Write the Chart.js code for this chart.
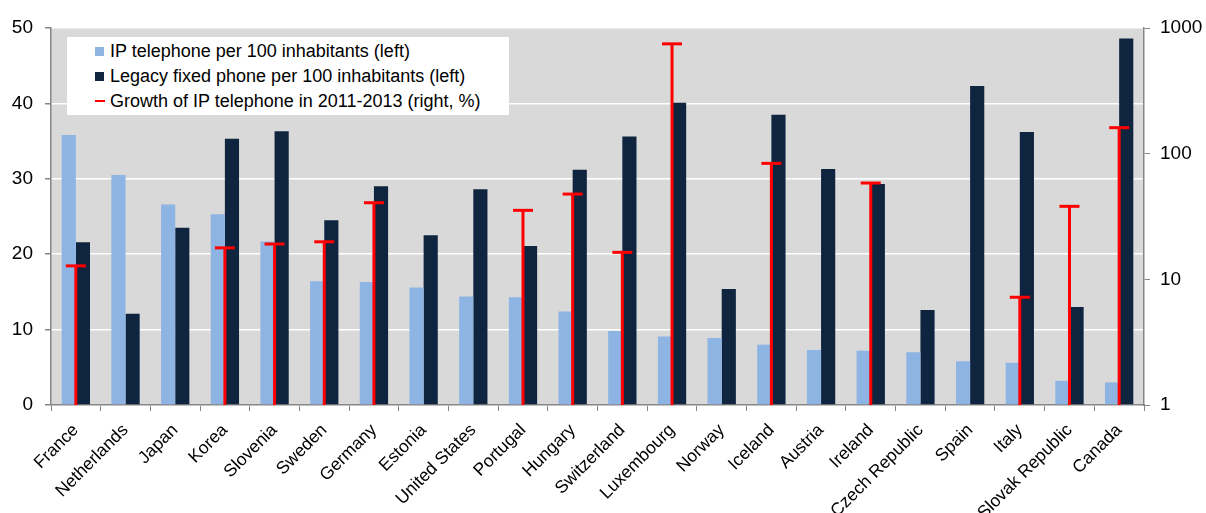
<!DOCTYPE html>
<html lang="en">
<head>
    <meta charset="UTF-8">
    <title>IP telephone and legacy fixed phone</title>
    <script src="https://cdn.jsdelivr.net/npm/chart.js"></script>
    <style>
        body {
            margin: 0;
            background: #ffffff;
            font-family: 'Liberation Sans', Arial, sans-serif;
        }
        .wrap {
            position: relative;
            width: 1206px;
            height: 513px;
        }
        .legend {
            position: absolute;
            left: 67px;
            top: 37px;
            width: 442px;
            height: 78px;
            background: #ffffff;
            font-size: 18px;
            color: #000;
        }
        .legend .item {
            position: absolute;
            left: 28px;
            height: 20px;
            line-height: 20px;
            white-space: nowrap;
        }
        .legend .mark {
            display: inline-block;
            width: 9px;
            height: 9px;
            margin-right: 6px;
            vertical-align: 1px;
        }
        .legend .dash {
            display: inline-block;
            width: 10px;
            height: 2px;
            margin-right: 5px;
            vertical-align: 5px;
            background: #ff0000;
        }
    </style>
</head>
<body>
<div class="wrap">
    <canvas id="phoneChart"></canvas>
    <div class="legend">
        <div class="item" style="top:4px"><span class="mark" style="background:#8eb4e3"></span>IP telephone per 100 inhabitants (left)</div>
        <div class="item" style="top:29px"><span class="mark" style="background:#0f243e"></span>Legacy fixed phone per 100 inhabitants (left)</div>
        <div class="item" style="top:54px"><span class="dash"></span>Growth of IP telephone in 2011-2013 (right, %)</div>
    </div>
</div>

<script>
    const countries = ['France', 'Netherlands', 'Japan', 'Korea', 'Slovenia', 'Sweden', 'Germany', 'Estonia',
        'United States', 'Portugal', 'Hungary', 'Switzerland', 'Luxembourg', 'Norway', 'Iceland', 'Austria',
        'Ireland', 'Czech Republic', 'Spain', 'Italy', 'Slovak Republic', 'Canada'];
    const ipPhone = [35.8, 30.5, 26.6, 25.3, 21.7, 16.4, 16.3, 15.6, 14.4, 14.3, 12.4, 9.8, 9.1, 8.9, 8.0, 7.3,
        7.2, 7.0, 5.8, 5.6, 3.2, 3.0];
    const legacyPhone = [21.6, 12.1, 23.5, 35.3, 36.3, 24.5, 29.0, 22.5, 28.6, 21.1, 31.2, 35.6, 40.1, 15.4, 38.5, 31.3,
        29.3, 12.6, 42.3, 36.2, 13.0, 48.6];
    const ipGrowth = [12.8, null, null, 17.8, 19.1, 19.9, 40.7, null, null, 35.4, 47.7, 16.4, 748, null, 83.7, null,
        58.4, null, null, 7.2, 38.1, 161];
    const leftTicks = [0, 10, 20, 30, 40, 50];
    const rightTicks = [1, 10, 100, 1000];

    const axisGray = '#868686';

    // grey plot background behind the bars
    const plotBackground = {
        id: 'plotBackground',
        beforeDraw(chart) {
            const {ctx, chartArea: a} = chart;
            ctx.save();
            ctx.fillStyle = '#d9d9d9';
            ctx.fillRect(a.left, a.top, a.right - a.left, a.bottom - a.top);
            ctx.restore();
        }
    };

    const ctx = document.getElementById('phoneChart').getContext('2d');
    new Chart(ctx, {
        type: 'bar',
        data: {
            labels: countries,
            datasets: [
                {
                    label: 'IP telephone per 100 inhabitants (left)',
                    data: ipPhone,
                    backgroundColor: '#8eb4e3',
                    yAxisID: 'y',
                    order: 2,
                    categoryPercentage: 0.57,
                    barPercentage: 1
                },
                {
                    label: 'Legacy fixed phone per 100 inhabitants (left)',
                    data: legacyPhone,
                    backgroundColor: '#0f243e',
                    yAxisID: 'y',
                    order: 2,
                    categoryPercentage: 0.57,
                    barPercentage: 1
                },
                {
                    // vertical stem from 1 up to the growth value
                    label: 'Growth of IP telephone in 2011-2013 (right, %)',
                    data: ipGrowth.map(v => v === null ? null : [1, v]),
                    backgroundColor: '#ff0000',
                    yAxisID: 'y2',
                    grouped: false,
                    maxBarThickness: 3,
                    order: 1
                },
                {
                    // cap on top of each stem
                    type: 'line',
                    label: 'cap',
                    data: ipGrowth,
                    yAxisID: 'y2',
                    showLine: false,
                    pointStyle: 'line',
                    pointRadius: 10,
                    pointBorderWidth: 3,
                    pointBorderColor: '#ff0000',
                    order: 0
                }
            ]
        },
        options: {
            responsive: true,
            maintainAspectRatio: false,
            animation: false,
            events: [],
            layout: {
                padding: {top: 28, left: 0, right: 0, bottom: 0}
            },
            scales: {
                x: {
                    offset: true,
                    grid: {
                        offset: true,
                        drawOnChartArea: false,
                        drawTicks: true,
                        tickLength: 6,
                        tickColor: axisGray
                    },
                    border: {color: axisGray, width: 1.5},
                    ticks: {
                        color: '#000',
                        font: {family: "'Liberation Sans', Arial", size: 17.5},
                        minRotation: 45,
                        maxRotation: 45,
                        autoSkip: false,
                        padding: 9
                    },
                    afterFit(scale) { scale.height = 108; }
                },
                y: {
                    position: 'left',
                    min: 0,
                    max: 50,
                    afterBuildTicks(scale) { scale.ticks = leftTicks.map(v => ({value: v})); },
                    grid: {
                        color: '#ffffff',
                        lineWidth: 1.5,
                        tickLength: 6,
                        tickColor: axisGray
                    },
                    border: {color: axisGray, width: 1.5},
                    ticks: {
                        color: '#000',
                        font: {family: "'Liberation Sans', Arial", size: 19},
                        padding: 12
                    },
                    afterFit(scale) { scale.width = 51; }
                },
                y2: {
                    type: 'logarithmic',
                    position: 'right',
                    min: 1,
                    max: 1000,
                    afterBuildTicks(scale) { scale.ticks = rightTicks.map(v => ({value: v})); },
                    grid: {
                        drawOnChartArea: false,
                        tickLength: 6,
                        tickColor: axisGray
                    },
                    border: {color: axisGray, width: 1.5},
                    ticks: {
                        color: '#000',
                        font: {family: "'Liberation Sans', Arial", size: 19},
                        padding: 10,
                        callback: v => String(v)
                    },
                    afterFit(scale) { scale.width = 62; }
                }
            },
            plugins: {
                legend: {display: false},
                tooltip: {enabled: false}
            }
        },
        plugins: [plotBackground]
    });
</script>
</body>
</html>
